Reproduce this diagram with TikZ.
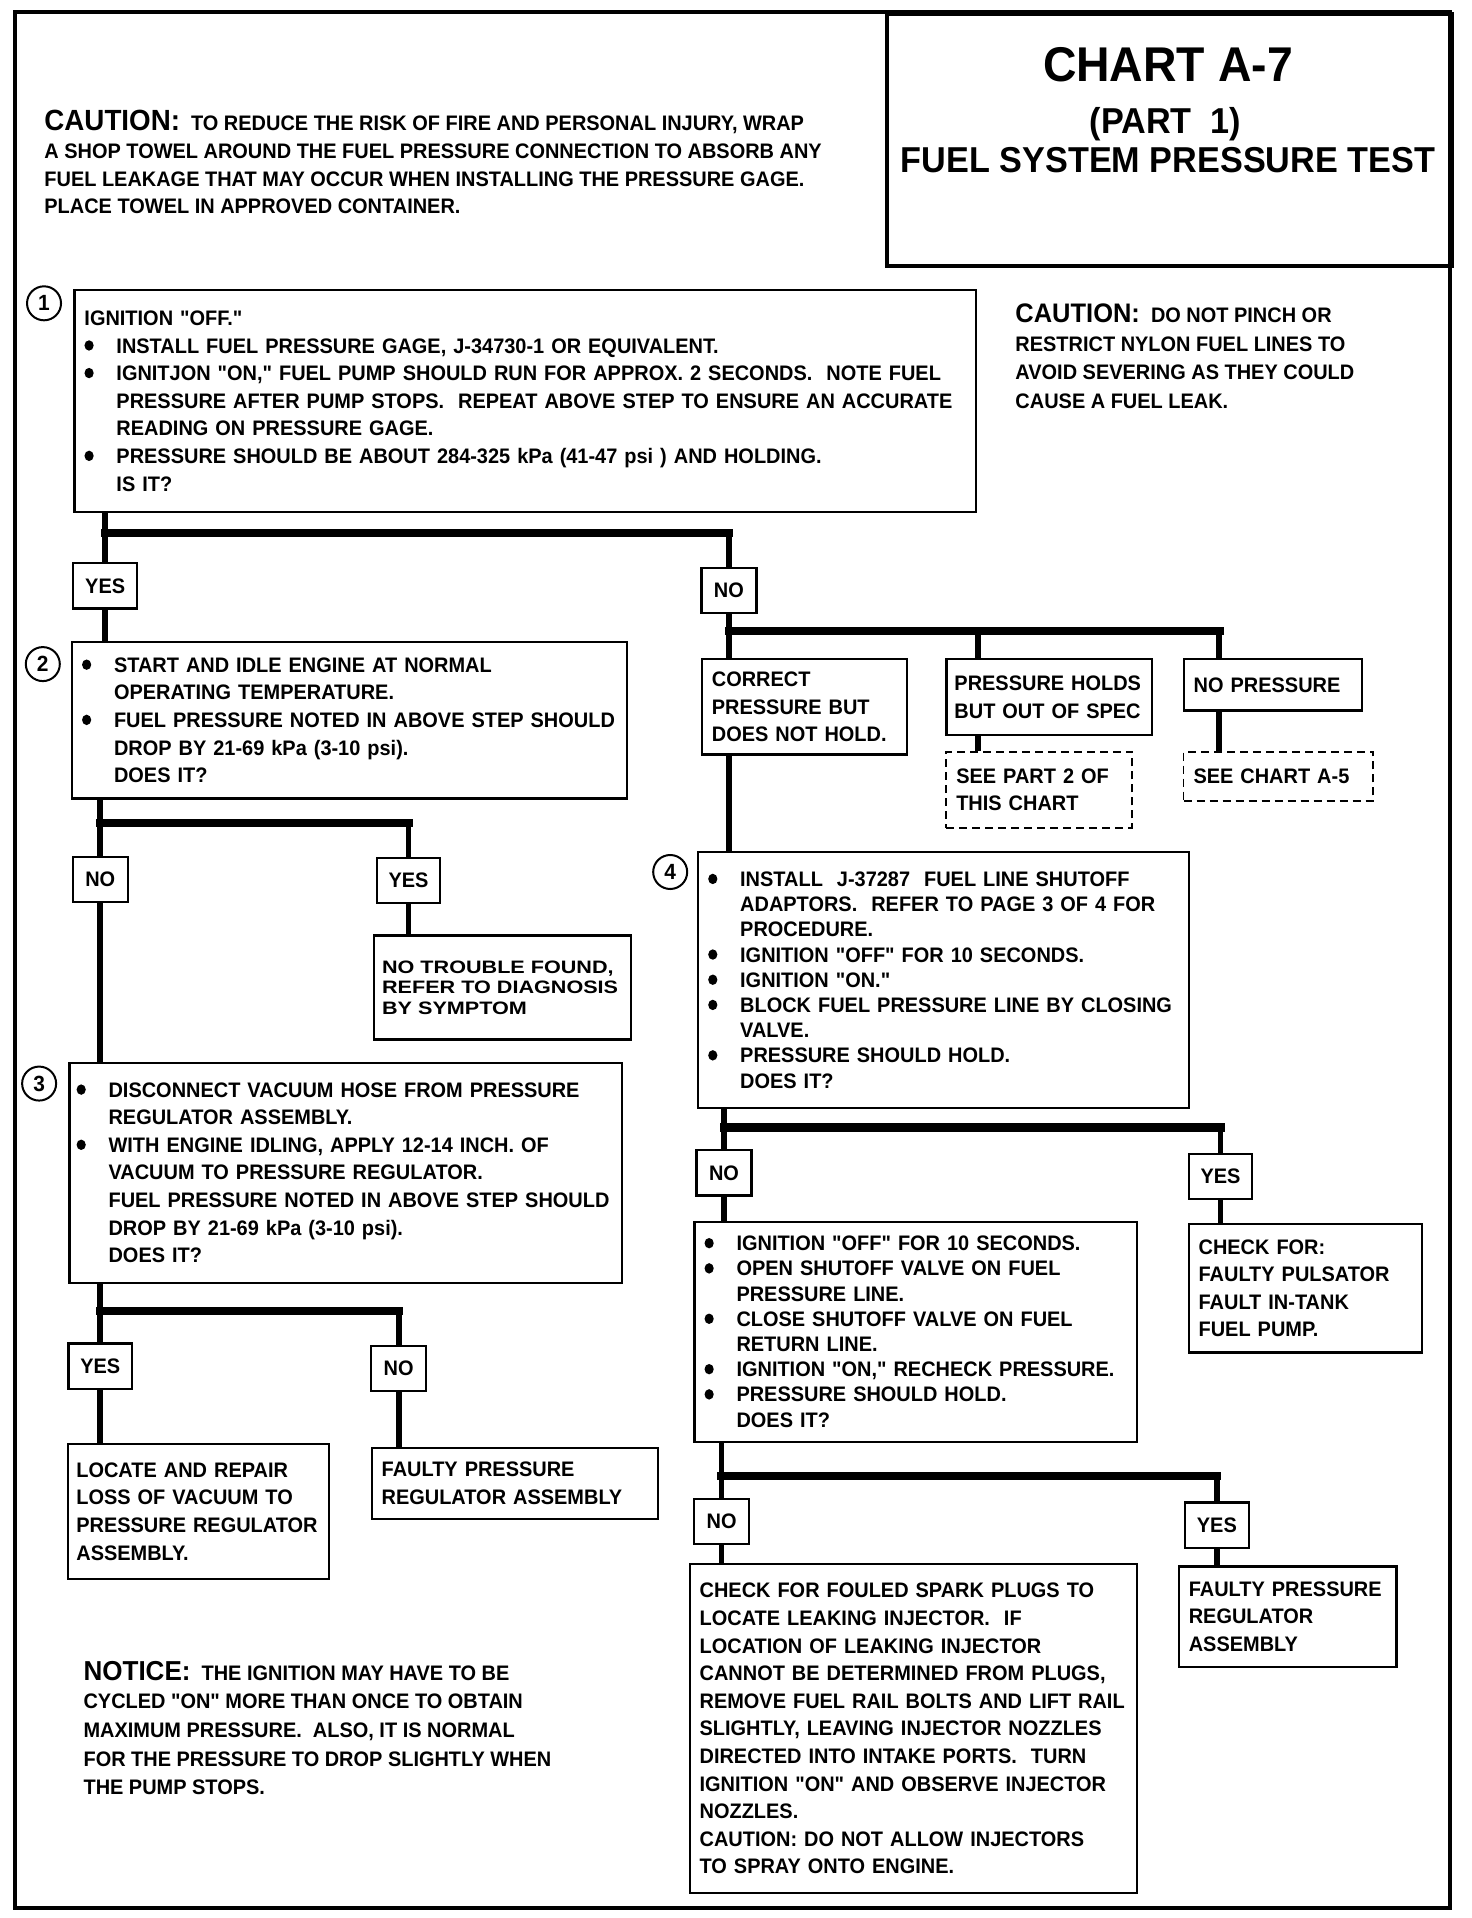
\documentclass[tikz,border=0pt]{standalone}
\usepackage{fontspec}
\usetikzlibrary{positioning}
\newfontfamily\chartfont{Liberation Sans Bold}[FakeStretch=0.95]
\newfontfamily\ntffont{Liberation Sans Bold}[FakeStretch=1.2]
\newcommand{\bodyfont}{\chartfont\fontsize{10.5}{13.8}\selectfont}
\newcommand{\tightfont}{\chartfont\fontsize{10.5}{12.6}\selectfont}
\newcommand{\headfont}[1]{\chartfont\fontsize{#1}{13.8}\selectfont}
\newcommand{\bul}{\makebox[16pt][l]{\tikz[baseline=0pt]\fill (2.6pt,3.8pt) circle[x radius=2.3pt,y radius=2.6pt];}}
\newcommand{\ind}{\hspace*{16pt}}

\begin{document}
\begin{tikzpicture}[x=0.6115pt,y=-0.6115pt,
  box/.style={draw,line width=1.1pt,anchor=north west,align=left,inner xsep=5pt,inner ysep=1pt,font=\bodyfont},
  dbox/.style={box,line width=0.9pt,dash pattern=on 4pt off 2.5pt},
  ans/.style={draw,line width=1.1pt,minimum height=22.6pt,inner sep=0pt,font=\bodyfont},
  yes/.style={ans,minimum width=31.8pt},
  no/.style={ans,minimum width=27.5pt},
  num/.style={draw,circle,line width=1pt,minimum size=17pt,inner sep=0pt,font=\chartfont\fontsize{11}{12}\selectfont},
  note/.style={anchor=north west,align=left,inner sep=0pt,font=\bodyfont},
  flow/.style={line width=2.9pt},
  bar/.style={line width=4.2pt,line cap=rect}]
\useasboundingbox (0,0) rectangle (1203.6,1568.3);
\draw[line width=2pt] (12,10) rectangle (1186,1560);

% heading
\node[draw,line width=1.8pt,anchor=north west,minimum width=282.5pt,minimum height=126pt,inner sep=0pt] (head) at (724,10) {};
\node[anchor=base,inner sep=0pt,font=\headfont{24.4}] (t1) at (955,67) {CHART A-7};
\node[anchor=base,inner sep=0pt,font=\headfont{18}] (t2) at (953,109) {(PART\ \ 1)};
\node[anchor=base,inner sep=0pt,font=\headfont{18}] (t3) at (955,141) {FUEL SYSTEM PRESSURE TEST};

\node[note] (caut1) at (36,90) {{\headfont{14.6}CAUTION:}\ \ TO REDUCE THE RISK OF FIRE AND PERSONAL INJURY, WRAP\\
A SHOP TOWEL AROUND THE FUEL PRESSURE CONNECTION TO ABSORB ANY\\
FUEL LEAKAGE THAT MAY OCCUR WHEN INSTALLING THE PRESSURE GAGE.\\
PLACE TOWEL IN APPROVED CONTAINER.};
\node[note,font=\chartfont\fontsize{10.5}{14.3}\selectfont] (caut2) at (830,248) {{\headfont{13.4}CAUTION:}\ \ DO NOT PINCH OR\\
RESTRICT NYLON FUEL LINES TO\\
AVOID SEVERING AS THEY COULD\\
CAUSE A FUEL LEAK.};
\node[note,font=\chartfont\fontsize{10.5}{14.3}\selectfont] (notice) at (68,1358) {{\headfont{13.7}NOTICE:}\ \ THE IGNITION MAY HAVE TO BE\\
CYCLED "ON" MORE THAN ONCE TO OBTAIN\\
MAXIMUM PRESSURE.\ \ ALSO, IT IS NORMAL\\
FOR THE PRESSURE TO DROP SLIGHTLY WHEN\\
THE PUMP STOPS.};

% step 1
\node[num] (c1) at (36,248) {1};
\node[box,text width=440.7pt,minimum height=111.3pt] (s1) at (60,236) {IGNITION "OFF."\\
\bul INSTALL FUEL PRESSURE GAGE, J-34730-1 OR EQUIVALENT.\\
\bul IGNITJON "ON," FUEL PUMP SHOULD RUN FOR APPROX. 2 SECONDS.\ \ NOTE FUEL\\
\ind PRESSURE AFTER PUMP STOPS.\ \ REPEAT ABOVE STEP TO ENSURE AN ACCURATE\\
\ind READING ON PRESSURE GAGE.\\
\bul PRESSURE SHOULD BE ABOUT 284-325 kPa (41-47 psi ) AND HOLDING.\\
\ind IS IT?};
\node[yes] (y1) at (86,479) {YES};
\node[no] (n1) at (596,483) {NO};

% step 2
\node[num] (c2) at (35,543) {2};
\node[box,text width=267.6pt,minimum height=78.3pt] (s2) at (58,524) {\bul START AND IDLE ENGINE AT NORMAL\\
\ind OPERATING TEMPERATURE.\\
\bul FUEL PRESSURE NOTED IN ABOVE STEP SHOULD\\
\ind DROP BY 21-69 kPa (3-10 psi).\\
\ind DOES IT?};
\node[no] (n2) at (82,719) {NO};
\node[yes] (y2) at (334,720) {YES};
\node[box,inner xsep=4pt,text width=120.4pt,minimum height=52pt,font=\ntffont\fontsize{9}{10.2}\selectfont] (ntf) at (305,764) {NO TROUBLE FOUND,\\
REFER TO DIAGNOSIS\\
BY SYMPTOM};

% step 3
\node[num] (c3) at (32,886) {3};
\node[box,inner xsep=3.5pt,text width=269.4pt,minimum height=110.1pt] (s3) at (56,868) {\bul DISCONNECT VACUUM HOSE FROM PRESSURE\\
\ind REGULATOR ASSEMBLY.\\
\bul WITH ENGINE IDLING, APPLY 12-14 INCH. OF\\
\ind VACUUM TO PRESSURE REGULATOR.\\
\ind FUEL PRESSURE NOTED IN ABOVE STEP SHOULD\\
\ind DROP BY 21-69 kPa (3-10 psi).\\
\ind DOES IT?};
\node[yes] (y3) at (82,1117) {YES};
\node[no] (n3) at (326,1119) {NO};
\node[box,inner xsep=4pt,text width=122.2pt,minimum height=67.3pt] (loc) at (55,1180) {LOCATE AND REPAIR\\
LOSS OF VACUUM TO\\
PRESSURE REGULATOR\\
ASSEMBLY.};
\node[box,text width=133.1pt,minimum height=35.5pt] (fp3) at (303,1183) {FAULTY PRESSURE\\
REGULATOR ASSEMBLY};

% no pressure branches
\node[box,text width=92.7pt,minimum height=47.7pt] (cr) at (573,538) {CORRECT\\
PRESSURE BUT\\
DOES NOT HOLD.};
\node[box,inner xsep=4pt,text width=94.7pt,minimum height=37.9pt] (ph) at (773,538) {PRESSURE HOLDS\\
BUT OUT OF SPEC};
\node[box,text width=79.3pt,minimum height=25.7pt] (np) at (967,538) {NO PRESSURE};
\node[dbox,text width=82.9pt,minimum height=37.9pt] (sp2) at (773,614) {SEE PART 2 OF\\
THIS CHART};
\node[dbox,text width=84.8pt,minimum height=24.5pt] (sa5) at (967,614) {SEE CHART A-5};

% step 4
\node[num] (c4) at (548,713) {4};
\node[box,text width=235.2pt,minimum height=127.8pt,font=\tightfont] (s4) at (570,696) {\bul INSTALL\ \ J-37287\ \ FUEL LINE SHUTOFF\\
\ind ADAPTORS.\ \ REFER TO PAGE 3 OF 4 FOR\\
\ind PROCEDURE.\\
\bul IGNITION "OFF" FOR 10 SECONDS.\\
\bul IGNITION "ON."\\
\bul BLOCK FUEL PRESSURE LINE BY CLOSING\\
\ind VALVE.\\
\bul PRESSURE SHOULD HOLD.\\
\ind DOES IT?};
\node[no] (n4) at (592,959) {NO};
\node[yes] (y4) at (998,962) {YES};
\node[box,text width=106.8pt,minimum height=64.2pt] (chk) at (971,1000) {CHECK FOR:\\
FAULTY PULSATOR\\
FAULT IN-TANK\\
FUEL PUMP.};

% step 5
\node[box,text width=211.4pt,minimum height=110.1pt,font=\tightfont] (s5) at (567,998) {\bul IGNITION "OFF" FOR 10 SECONDS.\\
\bul OPEN SHUTOFF VALVE ON FUEL\\
\ind PRESSURE LINE.\\
\bul CLOSE SHUTOFF VALVE ON FUEL\\
\ind RETURN LINE.\\
\bul IGNITION "ON," RECHECK PRESSURE.\\
\bul PRESSURE SHOULD HOLD.\\
\ind DOES IT?};
\node[no] (n5) at (590,1244) {NO};
\node[yes] (y5) at (995,1247) {YES};
\node[box,text width=213.8pt,minimum height=164.5pt] (lb) at (563,1278) {CHECK FOR FOULED SPARK PLUGS TO\\
LOCATE LEAKING INJECTOR.\ \ IF\\
LOCATION OF LEAKING INJECTOR\\
CANNOT BE DETERMINED FROM PLUGS,\\
REMOVE FUEL RAIL BOLTS AND LIFT RAIL\\
SLIGHTLY, LEAVING INJECTOR NOZZLES\\
DIRECTED INTO INTAKE PORTS.\ \ TURN\\
IGNITION "ON" AND OBSERVE INJECTOR\\
NOZZLES.\\
CAUTION: DO NOT ALLOW INJECTORS\\
TO SPRAY ONTO ENGINE.};
\node[box,text width=98.8pt,minimum height=50.1pt] (fp5) at (963,1280) {FAULTY PRESSURE\\
REGULATOR\\
ASSEMBLY};

% branch points
\coordinate (b1) at (86,436);
\coordinate (b2) at (596,516);
\coordinate (b2m) at (800,516);
\coordinate (b2r) at (997,516);
\coordinate (b3) at (82,673);
\coordinate (b6) at (82,1072);
\coordinate (b4) at (592,922);
\coordinate (b5) at (590,1207);

% connectors
\draw[flow] (y1.north |- s1.south) -- (y1.north);
\draw[bar] (b1) -- (b1 -| n1);
\draw[flow] (b1 -| n1) -- (n1.north);
\draw[flow] (y1.south) -- (y1.south |- s2.north);

\draw[flow] (n2.north |- s2.south) -- (n2.north);
\draw[bar] (b3) -- (b3 -| y2);
\draw[flow] (b3 -| y2) -- (y2.north);
\draw[flow] (y2.south) -- (y2.south |- ntf.north);
\draw[flow] (n2.south) -- (n2.south |- s3.north);

\draw[flow] (y3.north |- s3.south) -- (y3.north);
\draw[bar] (b6) -- (b6 -| n3);
\draw[flow] (b6 -| n3) -- (n3.north);
\draw[flow] (y3.south) -- (y3.south |- loc.north);
\draw[flow] (n3.south) -- (n3.south |- fp3.north);

\draw[flow] (n1.south) -- (n1.south |- cr.north);
\draw[bar] (b2) -- (b2r);
\draw[flow] (b2m) -- (b2m |- ph.north);
\draw[flow] (b2r) -- (b2r |- np.north);
\draw[flow] (b2m |- ph.south) -- (b2m |- sp2.north);
\draw[flow] (b2r |- np.south) -- (b2r |- sa5.north);
\draw[flow] (n1 |- cr.south) -- (n1 |- s4.north);

\draw[flow] (n4.north |- s4.south) -- (n4.north);
\draw[bar] (b4) -- (b4 -| y4);
\draw[flow] (b4 -| y4) -- (y4.north);
\draw[flow] (y4.south) -- (y4.south |- chk.north);
\draw[flow] (n4.south) -- (n4.south |- s5.north);

\draw[flow] (n5.north |- s5.south) -- (n5.north);
\draw[bar] (b5) -- (b5 -| y5);
\draw[flow] (b5 -| y5) -- (y5.north);
\draw[flow] (y5.south) -- (y5.south |- fp5.north);
\draw[flow] (n5.south) -- (n5.south |- lb.north);
\end{tikzpicture}
\end{document}
